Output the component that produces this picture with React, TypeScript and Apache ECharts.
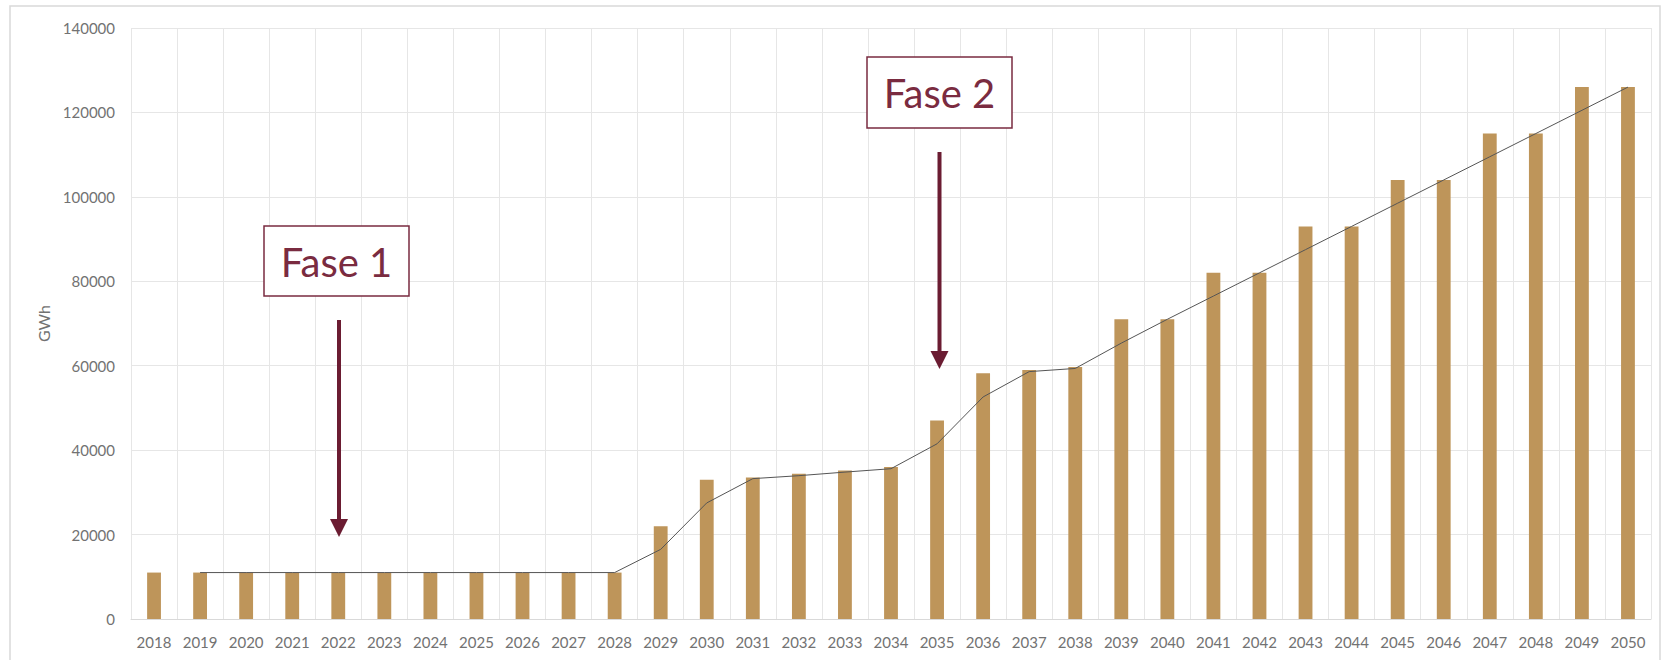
import React, { useEffect, useRef } from "react";
import * as echarts from "echarts";

const years: string[] = [
  "2018", "2019", "2020", "2021", "2022", "2023", "2024", "2025", "2026", "2027", "2028",
  "2029", "2030", "2031", "2032", "2033", "2034", "2035", "2036", "2037", "2038", "2039",
  "2040", "2041", "2042", "2043", "2044", "2045", "2046", "2047", "2048", "2049", "2050",
];

const energyGWh: number[] = [
  11000, 11000, 11000, 11000, 11000, 11000, 11000, 11000, 11000, 11000, 11000,
  22000, 33000, 33500, 34400, 35200, 36000, 47000, 58200, 59000, 59700, 71000,
  71000, 82000, 82000, 93000, 93000, 104000, 104000, 115000, 115000, 126000, 126000,
];

const trendGWh: (number | string)[] = [
  "-", 11000, 11000, 11000, 11000, 11000, 11000, 11000, 11000, 11000, 11000,
  16500, 27500, 33250, 33950, 34800, 35600, 41500, 52600, 58600, 59350, 65350,
  71000, 76500, 82000, 87500, 93000, 98500, 104000, 109500, 115000, 120500, 126000,
];

const yTicks = { min: 0, max: 140000, interval: 20000 };
const phaseLabels: string[] = ["Fase 1", "Fase 2"];

export default function App() {
  const ref = useRef<HTMLDivElement>(null);

  useEffect(() => {
    document.body.style.margin = "0";
    if (!ref.current) return;
    const chart = echarts.init(ref.current, undefined, { renderer: "svg" });
    const maroon = "#7A2B40";
    const arrow = "#6B1C32";
    const font = "Lato, 'Open Sans', sans-serif";
    chart.setOption({
      animation: false,
      backgroundColor: "#ffffff",
      grid: { left: 131, right: 15, top: 28, bottom: 41, containLabel: false },
      xAxis: {
        type: "category",
        data: years,
        boundaryGap: true,
        axisLine: { show: true, lineStyle: { color: "#d9d9d9", width: 1 } },
        axisTick: { show: false },
        axisLabel: { color: "#727272", fontSize: 15, fontFamily: font, margin: 15, interval: 0 },
        splitLine: { show: true, interval: 0, lineStyle: { color: "#e6e6e6", width: 1 } },
      },
      yAxis: {
        type: "value",
        min: yTicks.min,
        max: yTicks.max,
        interval: yTicks.interval,
        name: "GWh",
        nameLocation: "middle",
        nameGap: 80,
        nameRotate: 90,
        nameTextStyle: { color: "#727272", fontSize: 16, fontFamily: font },
        axisLine: { show: false },
        axisTick: { show: false },
        axisLabel: {
          color: "#727272",
          fontSize: 15,
          fontFamily: font,
          margin: 16,
          formatter: (v: number) => String(v),
        },
        splitLine: { show: true, lineStyle: { color: "#e6e6e6", width: 1 } },
      },
      series: [
        {
          type: "bar",
          data: energyGWh,
          barWidth: "30%",
          itemStyle: { color: "#BE955A" },
        },
        {
          type: "line",
          data: trendGWh,
          symbol: "none",
          lineStyle: { color: "#555555", width: 1 },
          z: 5,
        },
      ],
      graphic: [
        {
          type: "rect",
          shape: { x: 10, y: 6, width: 1650, height: 670 },
          style: { fill: "none", stroke: "#d9d9d9", lineWidth: 1.5 },
          silent: true,
        },
        {
          type: "rect",
          shape: { x: 264, y: 226, width: 145, height: 70 },
          style: { fill: "#ffffff", stroke: maroon, lineWidth: 1.5 },
          z: 10,
        },
        {
          type: "text",
          x: 336.5,
          y: 262,
          style: {
            text: phaseLabels[0],
            fill: maroon,
            font: "40px " + font,
            textAlign: "center",
            textVerticalAlign: "middle",
          },
          z: 11,
        },
        {
          type: "line",
          shape: { x1: 339, y1: 320, x2: 339, y2: 522 },
          style: { stroke: arrow, lineWidth: 4 },
          z: 10,
        },
        {
          type: "polygon",
          shape: { points: [[330, 519], [348, 519], [339, 537]] },
          style: { fill: arrow },
          z: 10,
        },
        {
          type: "rect",
          shape: { x: 867, y: 57, width: 145, height: 71 },
          style: { fill: "#ffffff", stroke: maroon, lineWidth: 1.5 },
          z: 10,
        },
        {
          type: "text",
          x: 939.5,
          y: 93,
          style: {
            text: phaseLabels[1],
            fill: maroon,
            font: "40px " + font,
            textAlign: "center",
            textVerticalAlign: "middle",
          },
          z: 11,
        },
        {
          type: "line",
          shape: { x1: 939.5, y1: 152, x2: 939.5, y2: 354 },
          style: { stroke: arrow, lineWidth: 4 },
          z: 10,
        },
        {
          type: "polygon",
          shape: { points: [[930.5, 351], [948.5, 351], [939.5, 369]] },
          style: { fill: arrow },
          z: 10,
        },
      ],
    });
    return () => {
      chart.dispose();
    };
  }, []);

  return <div ref={ref} style={{ width: 1666, height: 660 }} />;
}
